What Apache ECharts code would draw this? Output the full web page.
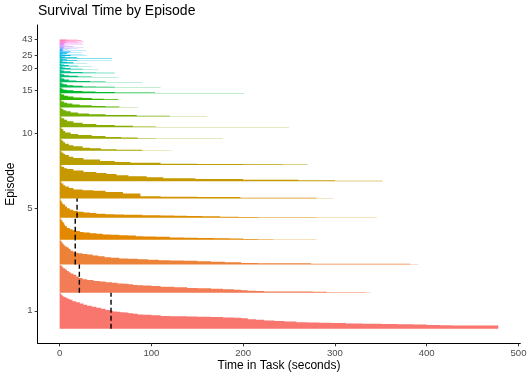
<!DOCTYPE html>
<html>
<head>
<meta charset="utf-8">
<title>Survival Time by Episode</title>
<script src="https://cdn.jsdelivr.net/npm/echarts@6.0.0/dist/echarts.min.js"></script>
<style>
  html, body { margin: 0; padding: 0; background: #fff; }
  #chart { width: 528px; height: 378px; }
</style>
</head>
<body>
<div id="chart"></div>
<script>
// episode numbers
const episodes = Array.from({ length: 43 }, (_, i) => i + 1);

// survival step curves per episode: time (s) where a step starts, and participants still in task from then on
const survTimes = [
  [0, 1, 2, 3, 4, 6, 8, 10, 11, 14, 18, 22, 26, 30, 35, 40, 45, 50, 55, 58, 62, 66, 70, 75, 80, 85, 91, 100, 110, 120, 139, 150, 165, 178, 190, 198, 205, 214, 223, 234, 245, 258, 270, 283, 296, 312, 330, 350, 368, 385, 400, 414, 427, 478],
  [0, 1, 3, 4, 6, 8, 10, 12, 15, 18, 21, 25, 30, 37, 44, 50, 57, 63, 70, 75, 80, 85, 91, 100, 110, 125, 139, 150, 165, 178, 190, 198, 205, 214, 223, 276, 291, 334, 339],
  [0, 1, 2, 3, 4, 5, 6, 8, 10, 12, 15, 17, 20, 25, 30, 36, 42, 49, 56, 65, 75, 85, 96, 108, 120, 135, 150, 165, 180, 198, 216, 274, 382, 391],
  [0, 1, 2, 3, 4, 5, 6, 8, 11, 14, 18, 22, 26, 33, 40, 47, 55, 65, 75, 83, 91, 105, 120, 135, 150, 168, 185, 200, 216, 233, 280],
  [0, 1, 2, 3, 4, 6, 8, 11, 15, 20, 26, 33, 40, 50, 60, 70, 90, 110, 125, 139, 155, 175, 195, 216, 280, 346],
  [0, 2, 4, 6, 10, 15, 25, 37, 50, 69, 88, 110, 150, 197, 280, 298],
  [0, 2, 5, 8, 15, 26, 40, 51, 62, 75, 95, 113, 148, 200, 260, 300, 352],
  [0, 2, 4, 6, 10, 15, 26, 44, 60, 77, 110, 150, 200, 243, 270],
  [0, 2, 4, 6, 10, 15, 25, 33, 45, 62, 90, 122],
  [0, 2, 4, 6, 12, 20, 35, 50, 67, 85, 105, 178],
  [0, 2, 5, 8, 15, 25, 40, 60, 80, 105, 250],
  [0, 2, 4, 7, 12, 20, 32, 50, 84, 120, 161],
  [0, 2, 5, 8, 14, 22, 35, 50, 65, 85],
  [0, 2, 5, 9, 15, 25, 35, 48, 64],
  [0, 2, 4, 8, 15, 25, 39, 60, 104, 201],
  [0, 2, 4, 8, 15, 25, 40, 60, 110],
  [0, 2, 5, 10, 18, 33, 50, 90],
  [0, 2, 5, 10, 20, 35, 64],
  [0, 2, 5, 12, 25, 40, 60],
  [0, 3, 6, 12, 25, 42],
  [0, 2, 5, 10, 20, 35],
  [0, 3, 8, 15, 30],
  [0, 3, 8, 19, 57],
  [0, 2, 6, 19, 57],
  [0, 2, 6, 12, 30],
  [0, 3, 8, 26],
  [0, 3, 10, 24],
  [0, 4, 12],
  [0, 3, 9, 29],
  [0, 4, 20],
  [0, 5, 12],
  [0, 3, 26],
  [0, 5, 15],
  [0, 4, 10],
  [0, 6, 26],
  [0, 5, 24],
  [0, 6, 20],
  [0, 8, 26],
  [0, 5, 18],
  [0, 10, 26],
  [0, 6, 24],
  [0, 20],
  [0, 8]
];
const survCounts = [
  [120, 116, 112, 110, 107, 104, 101, 99, 97, 92, 88, 84, 80, 77, 73, 70, 67, 63, 60, 58, 57, 55, 54, 52, 50, 48, 47, 45, 43, 42, 41, 40, 39, 38, 37, 35, 32, 30, 28, 26, 24, 22, 21, 20, 19, 18, 17, 16, 15, 14, 13, 12, 11, 0],
  [94, 90, 85, 81, 77, 72, 68, 64, 60, 54, 49, 45, 42, 39, 37, 35, 33, 31, 30, 28, 26, 25, 24, 22, 20, 18, 16, 15, 13, 12, 10, 8, 7, 6, 4, 3, 2, 1, 0],
  [82, 78, 74, 70, 66, 63, 60, 56, 51, 46, 41, 39, 37, 35, 33, 30, 27, 24, 22, 20, 19, 17, 16, 14, 13, 12, 11, 9, 7, 5, 4, 2, 1, 0],
  [73, 68, 64, 60, 56, 50, 45, 39, 35, 32, 29, 26, 24, 22, 20, 18, 17, 15, 14, 12, 11, 10, 8, 7, 6, 5, 4, 3, 2, 1, 0],
  [64, 58, 52, 47, 44, 38, 32, 27, 23, 20, 18, 16, 14, 12, 11, 10, 9, 8, 7, 6, 5, 4, 3, 2, 1, 0],
  [58, 50, 44, 40, 35, 30, 28, 26, 22, 17, 8, 6, 5, 3, 1, 0],
  [54, 48, 43, 40, 35, 30, 27, 24, 20, 16, 13, 10, 7, 5, 3, 1, 0],
  [47, 41, 37, 33, 27, 23, 18, 13, 10, 7, 4, 3, 2, 1, 0],
  [40, 34, 28, 23, 18, 15, 10, 8, 5, 3, 1, 0],
  [38, 32, 26, 21, 16, 12, 9, 6, 4, 2, 1, 0],
  [36, 30, 25, 20, 15, 11, 8, 5, 3, 1, 0],
  [30, 25, 21, 17, 13, 10, 7, 5, 2, 1, 0],
  [25, 20, 16, 13, 10, 7, 5, 3, 1, 0],
  [22, 18, 14, 11, 8, 6, 4, 2, 0],
  [19, 15, 12, 10, 8, 6, 4, 3, 1, 0],
  [18, 14, 11, 8, 6, 4, 3, 1, 0],
  [16, 12, 9, 6, 4, 2, 1, 0],
  [14, 10, 7, 5, 3, 1, 0],
  [12, 9, 6, 4, 2, 1, 0],
  [10, 7, 5, 3, 1, 0],
  [10, 7, 5, 3, 1, 0],
  [9, 6, 4, 1, 0],
  [8, 5, 3, 1, 0],
  [8, 6, 4, 1, 0],
  [6, 4, 3, 1, 0],
  [5, 3, 1, 0],
  [4, 2, 1, 0],
  [4, 2, 0],
  [4, 2, 1, 0],
  [3, 1, 0],
  [3, 1, 0],
  [3, 1, 0],
  [3, 1, 0],
  [3, 1, 0],
  [3, 1, 0],
  [2, 1, 0],
  [2, 1, 0],
  [2, 1, 0],
  [2, 1, 0],
  [2, 1, 0],
  [2, 1, 0],
  [1, 0],
  [1, 0]
];

// median survival time (dashed lines), first five episodes
const medianEpisodes = [1, 2, 3, 4, 5];
const medianTimes = [56, 21.5, 17, 17, 19];

// labelled episodes on the y axis, x tick labels
const yTickEpisodes = [1, 5, 10, 15, 20, 25, 43];
const xTicks = [0, 100, 200, 300, 400, 500];

// ---- derived: each episode sits on top of the previous one
const startCounts = survCounts.map(c => c[0]);
const bases = [];
let acc = 0;
startCounts.forEach(n => { bases.push(acc); acc += n; });
const total = acc;
const mids = episodes.map((e, i) => bases[i] + startCounts[i] / 2);
const midLabel = {};
yTickEpisodes.forEach(e => { midLabel[mids[e - 1]] = String(e); });

// ggplot-style hue palette (hcl, c=100, l=65)
function hcl(h, c, l) {
  const hr = h * Math.PI / 180;
  const u = c * Math.cos(hr), v = c * Math.sin(hr);
  const Xn = 95.047, Yn = 100, Zn = 108.883;
  const un = 4 * Xn / (Xn + 15 * Yn + 3 * Zn);
  const vn = 9 * Yn / (Xn + 15 * Yn + 3 * Zn);
  const Y = Yn * Math.pow((l + 16) / 116, 3);
  const up = u / (13 * l) + un, vp = v / (13 * l) + vn;
  const X = Y * 9 * up / (4 * vp);
  const Z = Y * (12 - 3 * up - 20 * vp) / (4 * vp);
  const x = X / 100, y = Y / 100, z = Z / 100;
  const lin = [
    3.2404542 * x - 1.5371385 * y - 0.4985314 * z,
    -0.9692660 * x + 1.8760108 * y + 0.0415560 * z,
    0.0556434 * x - 0.2040259 * y + 1.0572252 * z
  ];
  const g = lin.map(a => {
    const s = a <= 0.0031308 ? 12.92 * a : 1.055 * Math.pow(a, 1 / 2.4) - 0.055;
    return Math.round(Math.min(1, Math.max(0, s)) * 255);
  });
  return 'rgb(' + g.join(',') + ')';
}
const colors = episodes.map((e, i) => hcl(15 + i * 360 / episodes.length, 100, 65));

const chart = echarts.init(document.getElementById('chart'));
const font = "'Liberation Sans', Arial, sans-serif";

const option = {
  animation: false,
  title: {
    text: 'Survival Time by Episode',
    left: 38,
    top: 4,
    padding: 0,
    textStyle: { fontFamily: font, fontSize: 14, fontWeight: 'normal', color: '#000' }
  },
  grid: { left: 37.7, right: 7.7, top: 25, bottom: 34.7, outerBoundsMode: 'none', containLabel: false },
  xAxis: {
    type: 'value',
    min: -23.9,
    max: 502,
    name: 'Time in Task (seconds)',
    nameLocation: 'middle',
    nameGap: 16,
    nameMoveOverlap: false,
    nameTextStyle: { fontFamily: font, fontSize: 12, color: '#000' },
    axisLine: { onZero: false, lineStyle: { color: '#000', width: 1 } },
    axisTick: { length: 3, lineStyle: { color: '#333' }, customValues: xTicks },
    axisLabel: { fontFamily: font, fontSize: 9.6, color: '#4D4D4D', margin: 5, customValues: xTicks },
    splitLine: { show: false }
  },
  yAxis: {
    type: 'value',
    min: -0.05 * total,
    max: total * 1.05,
    name: 'Episode',
    nameLocation: 'middle',
    nameRotate: 90,
    nameGap: 21,
    nameMoveOverlap: false,
    nameTextStyle: { fontFamily: font, fontSize: 12, color: '#000' },
    axisLine: { show: true, onZero: false, lineStyle: { color: '#000', width: 1 } },
    axisTick: { show: true, length: 3, lineStyle: { color: '#333' }, customValues: yTickEpisodes.map(e => mids[e - 1]) },
    axisLabel: {
      fontFamily: font, fontSize: 9.6, color: '#4D4D4D', margin: 5,
      customValues: yTickEpisodes.map(e => mids[e - 1]),
      formatter: v => midLabel[v] || ''
    },
    splitLine: { show: false }
  },
  series: [
    {
      type: 'custom',
      name: 'survival',
      coordinateSystem: 'cartesian2d',
      data: episodes.map((e, i) => [0, bases[i]]),
      encode: { x: 0, y: 1 },
      renderItem: function (params, api) {
        const i = params.dataIndex;
        const t = survTimes[i], n = survCounts[i], b = bases[i];
        const pts = [api.coord([0, b])];
        for (let j = 0; j < t.length - 1; j++) {
          pts.push(api.coord([t[j], b + n[j]]));
          pts.push(api.coord([t[j + 1], b + n[j]]));
        }
        pts.push(api.coord([t[t.length - 1], b]));
        return { type: 'polygon', shape: { points: pts }, style: { fill: colors[i] } };
      }
    },
    {
      type: 'custom',
      name: 'median',
      coordinateSystem: 'cartesian2d',
      data: medianEpisodes.map((e, k) => [medianTimes[k], bases[e - 1]]),
      encode: { x: 0, y: 1 },
      z: 3,
      renderItem: function (params, api) {
        const e = medianEpisodes[params.dataIndex];
        const t = medianTimes[params.dataIndex];
        const p0 = api.coord([t, bases[e - 1]]);
        const p1 = api.coord([t, bases[e - 1] + startCounts[e - 1]]);
        return {
          type: 'line',
          shape: { x1: p0[0], y1: p0[1], x2: p1[0], y2: p1[1] },
          style: { stroke: '#000', lineWidth: 1.4, lineDash: [5, 3] }
        };
      }
    }
  ]
};

chart.setOption(option);
</script>
</body>
</html>
